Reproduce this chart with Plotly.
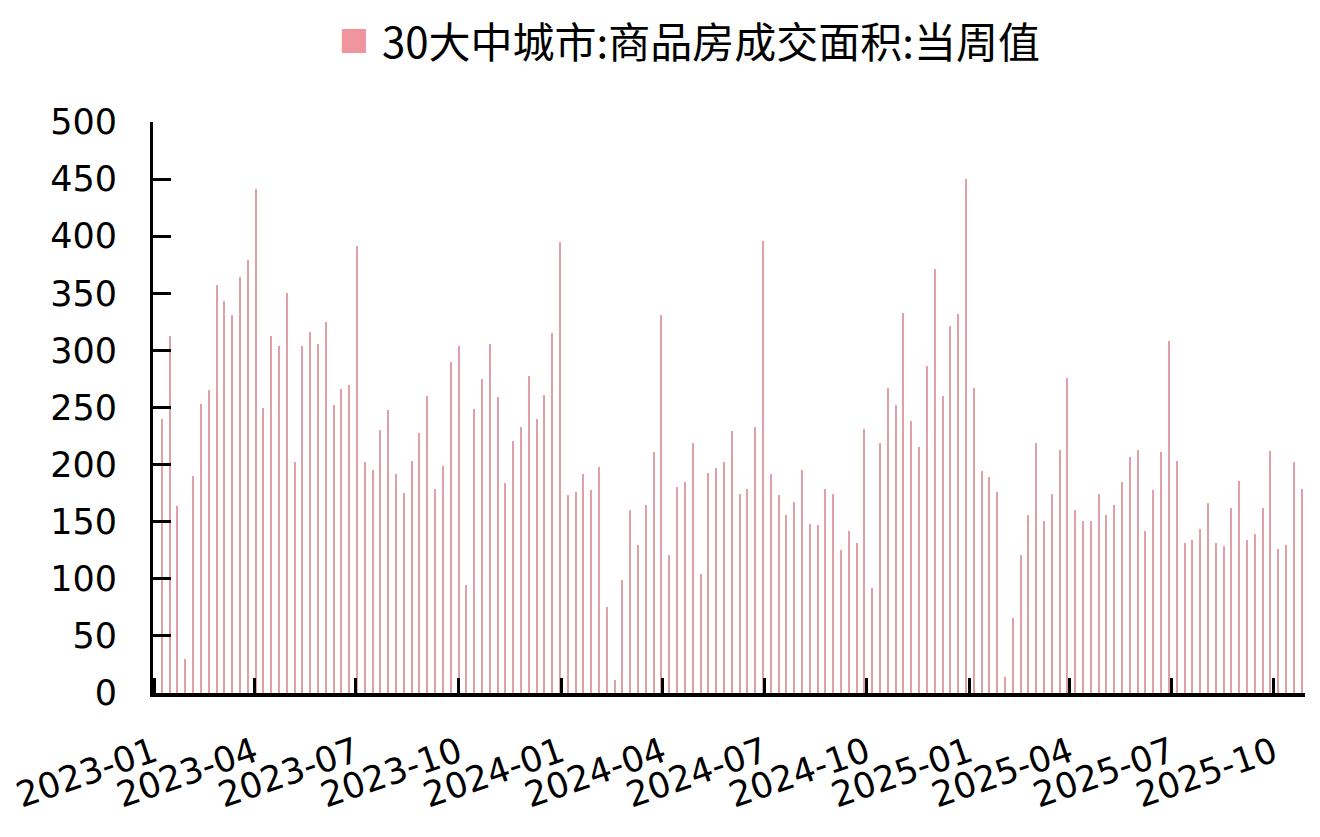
import plotly.graph_objects as go
import pandas as pd

series_name = "30大中城市:商品房成交面积:当周值"
start_week = "2023-01-08"
values = [
    240, 313, 164, 30, 190, 253, 265, 357, 343, 331, 364, 379, 441, 250, 313, 304,
    350, 202, 304, 316, 306, 325, 252,
    266, 270, 391, 202, 195, 230, 248, 192, 175, 203, 228, 260, 179, 199, 290, 304,
    95, 249, 275, 306, 259, 184, 221, 233, 278,
    240, 261, 315, 395, 173, 176, 192, 178, 198, 75, 11, 99, 160, 130, 165, 211,
    331, 121, 180, 185, 219, 104, 193, 197,
    202, 229, 174, 179, 233, 396, 192, 173, 156, 167, 195, 148, 147, 179, 174, 125,
    142, 131, 231, 92, 219, 267, 252, 333,
    238, 215, 286, 371, 260, 321, 332, 450, 267, 194, 189, 176, 14, 66, 121, 156,
    219, 151, 174, 213, 276, 160, 151, 151, 174,
    156, 165, 185, 207, 213, 142, 178, 211, 308, 203, 131, 134, 144, 166, 131, 129,
    162, 186, 134, 139, 162, 212, 126, 130, 202, 179,
]
dates = pd.date_range(start=start_week, periods=len(values), freq="7D")

tick_dates = ["2023-01-01", "2023-04-01", "2023-07-01", "2023-10-01",
              "2024-01-01", "2024-04-01", "2024-07-01", "2024-10-01",
              "2025-01-01", "2025-04-01", "2025-07-01", "2025-10-01"]
tick_labels = ["2023-01", "2023-04", "2023-07", "2023-10",
               "2024-01", "2024-04", "2024-07", "2024-10",
               "2025-01", "2025-04", "2025-07", "2025-10"]
y_ticks = list(range(0, 501, 50))

bar_color = "#E0A0A6"
legend_color = "#F0959D"

fig = go.Figure()
fig.add_trace(go.Bar(
    x=dates, y=values, name=series_name,
    marker=dict(color=bar_color, line=dict(width=0)),
    width=86400000 * 1.0,
    showlegend=False,
))

y_font = dict(family="DejaVu Sans, Liberation Sans, Arial", size=35, color="#000000")
x_font = dict(family="DejaVu Sans, Liberation Sans, Arial", size=35, color="#000000")

L, R, T, B = 145, 23, 114, 152
PW, PH = 1320 - L - R, 837 - T - B


def px_x(x):
    return (x - L) / PW


def px_y(y):
    return 1 + (T - y) / PH


fig.update_layout(
    width=1320, height=837,
    margin=dict(l=L, r=R, t=T, b=B, autoexpand=False),
    paper_bgcolor="white", plot_bgcolor="white",
    bargap=0,
    xaxis=dict(
        type="date",
        range=["2022-12-31", "2025-10-29"],
        tickmode="array", tickvals=tick_dates, ticktext=tick_labels,
        ticks="inside", ticklen=15, tickwidth=3, tickcolor="#000000",
        showline=True, linewidth=4, linecolor="#000000",
        showgrid=False, zeroline=False,
        tickangle=-19, tickfont=x_font,
        ticklabelstandoff=22,
        ticklabeloverflow="allow",
        automargin=False,
    ),
    yaxis=dict(
        range=[0, 500], tickmode="array", tickvals=y_ticks,
        ticks="inside", ticklen=18, tickwidth=3, tickcolor="#000000",
        showline=True, linewidth=3, linecolor="#000000",
        showgrid=False, zeroline=False,
        tickfont=y_font,
        ticklabelstandoff=26,
        automargin=False,
    ),
    annotations=[
        dict(
            text="■", xref="paper", yref="paper",
            x=px_x(346), y=px_y(31),
            xanchor="center", yanchor="middle", showarrow=False,
            font=dict(family="Noto Sans CJK SC, DejaVu Sans", size=30, color=legend_color),
        ),
        dict(
            text=series_name, xref="paper", yref="paper",
            x=px_x(703), y=px_y(32),
            xanchor="center", yanchor="middle", showarrow=False,
            font=dict(family="Noto Sans CJK SC, DejaVu Sans", size=42, color="#000000"),
        ),
    ],
)

fig.write_html("out.html")
